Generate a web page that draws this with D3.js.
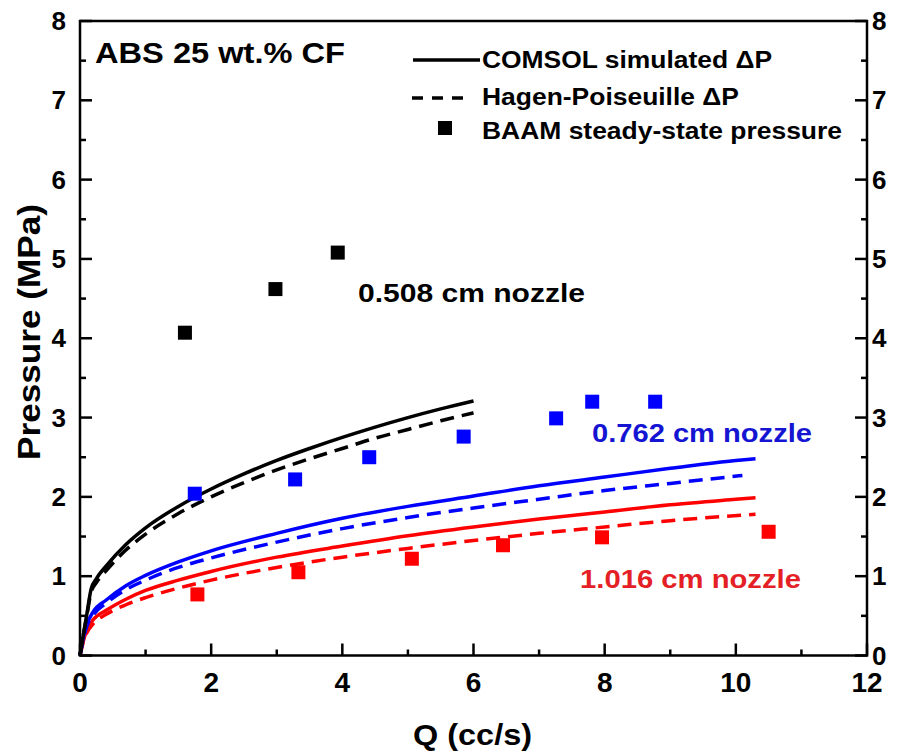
<!DOCTYPE html>
<html>
<head>
<meta charset="utf-8">
<script src="https://cdn.jsdelivr.net/npm/d3@7/dist/d3.min.js"></script>
<style>
  html, body { margin: 0; padding: 0; background: #fff; }
  svg { display: block; font-family: "Liberation Sans", Arial, Helvetica, sans-serif; font-weight: bold; }
</style>
</head>
<body>
<svg id="chart" width="899" height="755"></svg>
<script>
// Flow rate Q (cc/s) vs. pressure (MPa) for three nozzle diameters.

// COMSOL simulated pressure drop curves
const qSim508 = [0, 0.05, 0.1, 0.17, 0.25, 0.4, 0.7, 1, 1.5, 2, 2.5, 3, 3.5, 4, 4.5, 5, 5.5, 6];
const pSim508 = [0, 0.26, 0.5, 0.84, 0.97, 1.13, 1.40, 1.61, 1.88, 2.10, 2.29, 2.46, 2.61, 2.75, 2.88, 3.00, 3.11, 3.21];
const qSim762 = [0, 0.05, 0.1, 0.2, 0.4, 0.7, 1, 1.5, 2, 3, 4, 5, 6, 7, 8, 9, 10, 10.3];
const pSim762 = [0, 0.22, 0.38, 0.55, 0.70, 0.88, 1.01, 1.18, 1.32, 1.54, 1.73, 1.88, 2.01, 2.14, 2.25, 2.36, 2.46, 2.48];
const qSim1016 = [0, 0.05, 0.1, 0.2, 0.4, 0.7, 1, 1.5, 2, 3, 4, 5, 6, 7, 8, 9, 10, 10.3];
const pSim1016 = [0, 0.18, 0.31, 0.45, 0.57, 0.71, 0.82, 0.95, 1.06, 1.24, 1.38, 1.51, 1.62, 1.72, 1.81, 1.90, 1.97, 1.99];

// Hagen-Poiseuille pressure drop curves
const qHP508 = [0, 0.05, 0.1, 0.17, 0.25, 0.4, 0.7, 1, 1.5, 2, 2.5, 3, 3.5, 4, 4.5, 5, 5.5, 6];
const pHP508 = [0, 0.25, 0.48, 0.80, 0.92, 1.07, 1.33, 1.53, 1.79, 2.00, 2.18, 2.34, 2.48, 2.61, 2.74, 2.85, 2.96, 3.06];
const qHP762 = [0, 0.05, 0.1, 0.2, 0.4, 0.7, 1, 1.5, 2, 3, 4, 5, 6, 7, 8, 9, 10.1];
const pHP762 = [0, 0.21, 0.36, 0.51, 0.66, 0.83, 0.95, 1.11, 1.23, 1.43, 1.60, 1.74, 1.86, 1.97, 2.08, 2.17, 2.27];
const qHP1016 = [0, 0.05, 0.1, 0.2, 0.4, 0.7, 1, 1.5, 2, 3, 4, 5, 6, 7, 8, 9, 10.3];
const pHP1016 = [0, 0.17, 0.28, 0.40, 0.52, 0.64, 0.73, 0.85, 0.95, 1.11, 1.24, 1.35, 1.45, 1.54, 1.62, 1.70, 1.78];

// BAAM steady-state pressure measurements
const qBaam508 = [1.60, 2.98, 3.93];
const pBaam508 = [4.07, 4.62, 5.08];
const qBaam762 = [1.75, 3.28, 4.41, 5.85, 7.26, 7.81, 8.77];
const pBaam762 = [2.04, 2.22, 2.50, 2.76, 2.99, 3.20, 3.20];
const qBaam1016 = [1.79, 3.33, 5.06, 6.45, 7.96, 10.50];
const pBaam1016 = [0.77, 1.05, 1.22, 1.39, 1.49, 1.56];

const nozzleLabels = ["0.508 cm nozzle", "0.762 cm nozzle", "1.016 cm nozzle"];
const legendLabels = ["COMSOL simulated \u0394P", "Hagen-Poiseuille \u0394P", "BAAM steady-state pressure"];
const xTicks = [0, 2, 4, 6, 8, 10, 12];
const yTicks = [0, 1, 2, 3, 4, 5, 6, 7, 8];
const materialLabel = "ABS 25 wt.% CF";
const xTitle = "Q (cc/s)";
const yTitle = "Pressure (MPa)";

const BLACK = "#000000", BLUE = "#0000ff", RED = "#ff0000";
const BLUE_TEXT = "#1414d2", RED_TEXT = "#e41f26";

const svg = d3.select("#chart");
const plot = { left: 80, right: 867, top: 21, bottom: 655.5 };

const x = d3.scaleLinear().domain([0, 12]).range([plot.left, plot.right]);
const y = d3.scaleLinear().domain([0, 8]).range([plot.bottom, plot.top]);

const zip = (qs, ps) => qs.map((q, i) => [q, ps[i]]);
const line = d3.line().x(d => x(d[0])).y(d => y(d[1])).curve(d3.curveMonotoneX);

const series = [
  { sim: zip(qSim508, pSim508), hp: zip(qHP508, pHP508), baam: zip(qBaam508, pBaam508), color: BLACK },
  { sim: zip(qSim762, pSim762), hp: zip(qHP762, pHP762), baam: zip(qBaam762, pBaam762), color: BLUE },
  { sim: zip(qSim1016, pSim1016), hp: zip(qHP1016, pHP1016), baam: zip(qBaam1016, pBaam1016), color: RED }
];

const LW = 3.5;
const marks = svg.append("g");
// red first, then blue, then black so black stays on top near the origin
series.slice().reverse().forEach(s => {
  marks.append("path").datum(s.hp)
    .attr("d", line).attr("fill", "none")
    .attr("stroke", s.color).attr("stroke-width", LW).attr("stroke-dasharray", "14,8");
  marks.append("path").datum(s.sim)
    .attr("d", line).attr("fill", "none")
    .attr("stroke", s.color).attr("stroke-width", LW);
});
const SQ = 14;
series.forEach(s => {
  marks.selectAll(null).data(s.baam).join("rect")
    .attr("x", d => x(d[0]) - SQ / 2).attr("y", d => y(d[1]) - SQ / 2)
    .attr("width", SQ).attr("height", SQ).attr("fill", s.color);
});

// frame with inward ticks on bottom, left and right
const axisG = svg.append("g").attr("stroke", "#000").attr("fill", "none");
axisG.append("rect")
  .attr("x", plot.left).attr("y", plot.top)
  .attr("width", plot.right - plot.left).attr("height", plot.bottom - plot.top)
  .attr("stroke-width", 2.5);

const xMinor = d3.range(1, 12, 2);
const yMinor = d3.range(0.5, 8, 1);
xTicks.forEach(t => axisG.append("line").attr("x1", x(t)).attr("x2", x(t))
  .attr("y1", plot.bottom).attr("y2", plot.bottom - 12).attr("stroke-width", 2.5));
xMinor.forEach(t => axisG.append("line").attr("x1", x(t)).attr("x2", x(t))
  .attr("y1", plot.bottom).attr("y2", plot.bottom - 6).attr("stroke-width", 2.5));
[plot.left, plot.right].forEach((ax, k) => {
  const dir = k === 0 ? 1 : -1;
  yTicks.forEach(t => axisG.append("line").attr("x1", ax).attr("x2", ax + dir * 12)
    .attr("y1", y(t)).attr("y2", y(t)).attr("stroke-width", 2.5));
  yMinor.forEach(t => axisG.append("line").attr("x1", ax).attr("x2", ax + dir * 6)
    .attr("y1", y(t)).attr("y2", y(t)).attr("stroke-width", 2.5));
});

// tick labels
const labels = svg.append("g").attr("fill", "#000");
labels.selectAll(".xl").data(xTicks).join("text")
  .attr("x", d => x(d)).attr("y", 692).attr("text-anchor", "middle")
  .attr("font-size", 28).text(d => d);
labels.selectAll(".yl").data(yTicks).join("text")
  .attr("x", 66).attr("y", d => y(d) + 9).attr("text-anchor", "end")
  .attr("font-size", 26).text(d => d);
labels.selectAll(".yr").data(yTicks).join("text")
  .attr("x", 872).attr("y", d => y(d) + 9).attr("text-anchor", "start")
  .attr("font-size", 26).text(d => d);

// axis titles
svg.append("text").attr("x", 413).attr("y", 745)
  .attr("font-size", 30).attr("textLength", 119).attr("lengthAdjust", "spacingAndGlyphs")
  .text(xTitle);
svg.append("text").attr("transform", "translate(40,460) rotate(-90)")
  .attr("font-size", 32).attr("textLength", 256).attr("lengthAdjust", "spacingAndGlyphs")
  .text(yTitle);

// material label
svg.append("text").attr("x", 95).attr("y", 63)
  .attr("font-size", 30).attr("textLength", 250).attr("lengthAdjust", "spacingAndGlyphs")
  .text(materialLabel);

// legend
const lg = svg.append("g");
lg.append("line").attr("x1", 413).attr("x2", 480).attr("y1", 60).attr("y2", 60)
  .attr("stroke", BLACK).attr("stroke-width", LW);
lg.append("line").attr("x1", 412).attr("x2", 463).attr("y1", 98).attr("y2", 98)
  .attr("stroke", BLACK).attr("stroke-width", LW).attr("stroke-dasharray", "11,9");
lg.append("rect").attr("x", 438).attr("y", 121).attr("width", SQ).attr("height", SQ).attr("fill", BLACK);
const legendPos = [[482, 68, 290], [482, 105, 257], [482, 138.5, 360]];
legendLabels.forEach((t, i) => {
  lg.append("text").attr("x", legendPos[i][0]).attr("y", legendPos[i][1])
    .attr("font-size", 23.5).attr("textLength", legendPos[i][2]).attr("lengthAdjust", "spacingAndGlyphs")
    .text(t);
});

// nozzle annotations
const notePos = [[358, 302, 227, BLACK], [592, 442, 220, BLUE_TEXT], [580, 588, 221, RED_TEXT]];
nozzleLabels.forEach((t, i) => {
  svg.append("text").attr("x", notePos[i][0]).attr("y", notePos[i][1])
    .attr("font-size", 25.5).attr("fill", notePos[i][3])
    .attr("textLength", notePos[i][2]).attr("lengthAdjust", "spacingAndGlyphs")
    .text(t);
});
</script>
</body>
</html>
